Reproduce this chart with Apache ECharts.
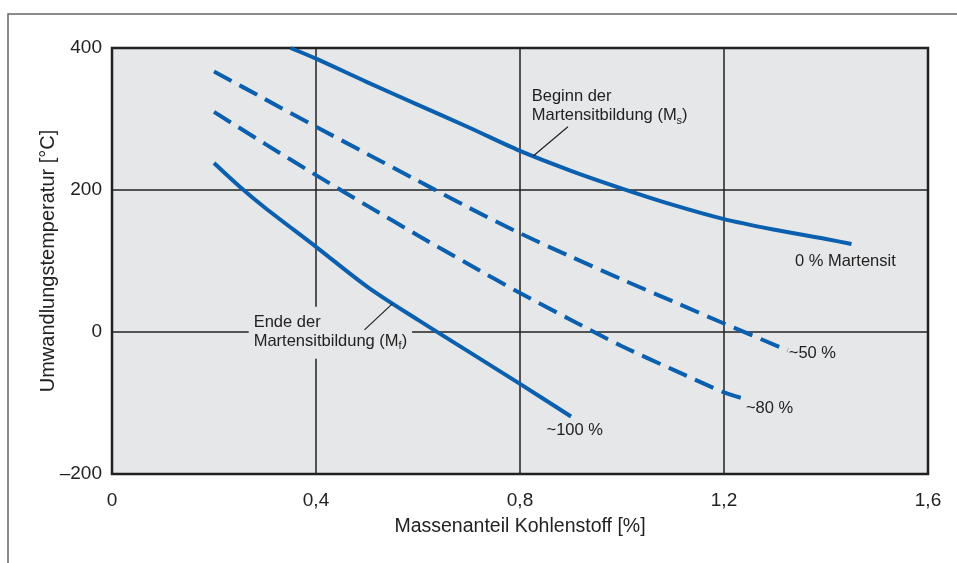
<!DOCTYPE html>
<html><head><meta charset="utf-8">
<script src="https://cdn.jsdelivr.net/npm/echarts@6/dist/echarts.min.js"></script>
<style>html,body{margin:0;padding:0;background:#fff}#c{width:957px;height:563px}</style>
</head><body><div id="c"></div>
<script>
// Data
const xTicks = [0, 0.4, 0.8, 1.2, 1.6];
const yTicks = [-200, 0, 200, 400];
// 0 % Martensit (Ms)
const msX = [0.35, 0.4, 0.5, 0.6, 0.7, 0.8, 0.9, 1.0, 1.1, 1.2, 1.3, 1.4, 1.45];
const msY = [400, 385, 352, 320, 288, 255, 227, 202, 179, 159, 144, 131, 124];
// ~50 %
const p50X = [0.2, 0.3, 0.4, 0.5, 0.6, 0.7, 0.8, 0.9, 1.0, 1.1, 1.2, 1.325];
const p50Y = [367, 328, 289, 251, 213, 175, 139, 106, 74, 43, 12, -26];
// ~80 %
const p80X = [0.2, 0.3, 0.4, 0.5, 0.6, 0.7, 0.8, 0.9, 1.0, 1.1, 1.2, 1.24];
const p80Y = [310, 265, 221, 178, 136, 95, 55, 17, -20, -53, -85, -94];
// ~100 % (Mf)
const mfX = [0.2, 0.25, 0.3, 0.4, 0.5, 0.6, 0.7, 0.8, 0.9];
const mfY = [238, 205, 175, 120, 64, 17, -28, -73, -119];

const zip = (a, b) => a.map((v, i) => [v, b[i]]);
const BLUE = '#0a5fae';
const BG = '#e6e7e9';
const TXT = '#222';
const FONT = '"Liberation Sans", Arial, sans-serif';

const subRich = {
  n: {fontFamily: FONT, fontSize: 16.5, color: TXT, lineHeight: 19},
  s: {fontFamily: FONT, fontSize: 11, color: TXT, lineHeight: 11, verticalAlign: 'top', padding: [9, 0, 0, 0]}
};
function note(coord, fmt, extra) {
  return {coord: coord, symbol: 'rect', symbolSize: 1, itemStyle: {color: 'rgba(0,0,0,0)'},
    label: Object.assign({show: true, position: 'inside', align: 'left', verticalAlign: 'middle',
      formatter: fmt, fontFamily: FONT, fontSize: 16.5, color: TXT, rich: subRich}, extra || {})};
}
const SM = 0.3;

const chart = echarts.init(document.getElementById('c'), null, {renderer: 'canvas'});
chart.setOption({
  animation: false,
  backgroundColor: '#fff',
  graphic: [{type: 'polyline', shape: {points: [[8, 563], [8, 14], [957, 14]]},
    style: {stroke: '#666', lineWidth: 1.5, fill: null}, z: 0}],
  grid: {left: 112, right: 29, top: 48, bottom: 89, show: true, backgroundColor: BG,
    borderColor: '#222', borderWidth: 2.5, z: 0},
  xAxis: {type: 'value', min: xTicks[0], max: xTicks[xTicks.length - 1], interval: 0.4,
    axisLine: {show: false}, axisTick: {show: false},
    splitLine: {show: true, lineStyle: {color: '#222', width: 1.5}},
    axisLabel: {margin: 17, fontFamily: FONT, fontSize: 19, color: TXT,
      formatter: v => String(Math.round(v * 10) / 10).replace('.', ',')},
    name: 'Massenanteil Kohlenstoff [%]', nameLocation: 'middle', nameGap: 43, nameMoveOverlap: false,
    nameTextStyle: {fontFamily: FONT, fontSize: 19.5, color: TXT}},
  yAxis: {type: 'value', min: yTicks[0], max: yTicks[yTicks.length - 1], interval: 200,
    axisLine: {show: false}, axisTick: {show: false},
    splitLine: {show: true, lineStyle: {color: '#222', width: 1.5}},
    axisLabel: {margin: 10, fontFamily: FONT, fontSize: 19, color: TXT,
      formatter: v => v < 0 ? '\u2013' + Math.abs(v) : String(v)},
    name: 'Umwandlungstemperatur [°C]', nameLocation: 'middle', nameGap: 54, nameMoveOverlap: false,
    nameTextStyle: {fontFamily: FONT, fontSize: 20, color: TXT}},
  series: [
    {type: 'line', data: zip(msX, msY), smooth: SM, symbol: 'none', z: 5,
      lineStyle: {color: BLUE, width: 4},
      markPoint: {z: 10, data: [
        note([1.339, 99], '0 % Martensit'),
        note([0.823, 318], '{n|Beginn der}\n{n|Martensitbildung (M}{s|s}{n|)}')
      ]},
      markLine: {z: 20, symbol: 'none', silent: true, label: {show: false},
        lineStyle: {color: '#222', width: 1.2, type: 'solid'},
        data: [[{coord: [0.894, 289]}, {coord: [0.826, 248]}]]}},
    {type: 'line', data: zip(p50X, p50Y), smooth: SM, symbol: 'none', z: 5,
      lineStyle: {color: BLUE, width: 4, type: [20, 9]},
      markPoint: {z: 10, data: [note([1.327, -30], '~50 %')]}},
    {type: 'line', data: zip(p80X, p80Y), smooth: SM, symbol: 'none', z: 5,
      lineStyle: {color: BLUE, width: 4, type: [20, 9]},
      markPoint: {z: 10, data: [note([1.243, -107], '~80 %')]}},
    {type: 'line', data: zip(mfX, mfY), smooth: SM, symbol: 'none', z: 5,
      lineStyle: {color: BLUE, width: 4},
      markPoint: {z: 3, data: [
        note([0.852, -138], '~100 %'),
        note([0.268, -1], '{n|Ende der}\n{n|Martensitbildung (M}{s|f}{n|)}',
          {backgroundColor: BG, padding: [6, 5, 8, 5]})
      ]},
      markLine: {z: 20, symbol: 'none', silent: true, label: {show: false},
        lineStyle: {color: '#222', width: 1.2, type: 'solid'},
        data: [[{coord: [0.495, 3]}, {coord: [0.55, 40]}]]}}
  ]
});
</script></body></html>
